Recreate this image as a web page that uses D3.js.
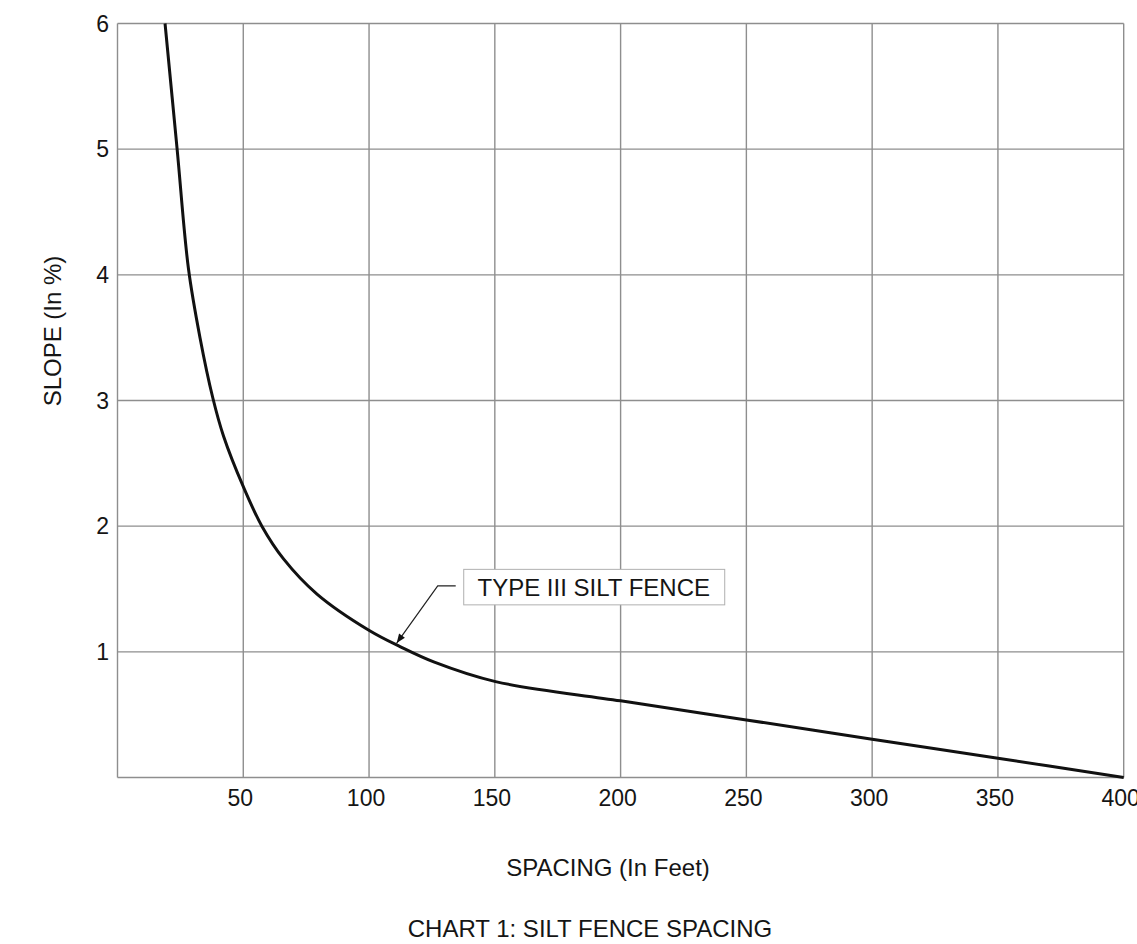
<!DOCTYPE html>
<html>
<head>
<meta charset="utf-8">
<script src="https://cdn.jsdelivr.net/npm/d3@7"></script>
<style>
  body { margin: 0; background: #fff; }
  svg text { font-family: "Liberation Sans", Arial, sans-serif; fill: #151515; }
</style>
</head>
<body>
<svg id="chart" width="1137" height="944"></svg>
<script>
// 曲线数据
const spacing = [18.9, 23.7, 28.2, 32.8, 37.9, 42.1, 50.1, 57.4, 66, 79.3, 100.1, 112.5, 125.7, 150.3, 200, 250, 300, 350, 400];
const slope   = [6, 5, 4.05, 3.5, 3.02, 2.72, 2.31, 2.0, 1.74, 1.46, 1.17, 1.04, 0.92, 0.763, 0.61, 0.458, 0.305, 0.153, 0];
const xTicks = [50, 100, 150, 200, 250, 300, 350, 400];
const yTicks = [1, 2, 3, 4, 5, 6];
const curveLabel = "TYPE III SILT FENCE";
const arrowTip = [111, 1.07];   // 箭头指向
const elbow = [127.3, 1.525];

const margin = {left: 117.5, right: 13.3, top: 23.5, bottom: 166.5};
const W = 1137, H = 944;
const svg = d3.select('#chart');

let x = d3.scaleLinear().domain([0, 400]).range([margin.left, W - margin.right]);
let y = d3.scaleLinear().domain([0, 6]).range([H - margin.bottom, margin.top]);

// 网格
let grid = svg.append('g').attr('stroke', '#8e8e8e').attr('stroke-width', 1.4);
grid.selectAll('line.v').data([0].concat(xTicks)).join('line')
    .attr('x1', d => x(d)).attr('x2', d => x(d))
    .attr('y1', y(0)).attr('y2', y(6));
grid.selectAll('line.h').data([0].concat(yTicks)).join('line')
    .attr('y1', d => y(d)).attr('y2', d => y(d))
    .attr('x1', x(0)).attr('x2', x(400));

// 刻度文字
svg.append('g').selectAll('text').data(xTicks).join('text')
    .attr('x', d => x(d) - 3).attr('y', y(0) + 28)
    .attr('text-anchor', 'middle').attr('font-size', 23)
    .text(d => d);
svg.append('g').selectAll('text').data(yTicks).join('text')
    .attr('x', x(0) - 8.5).attr('y', d => y(d) + 8.3)
    .attr('text-anchor', 'end').attr('font-size', 23)
    .text(d => d);

// 标题
svg.append('text').attr('transform', 'translate(61,331) rotate(-90)')
    .attr('text-anchor', 'middle').attr('font-size', 24).text('SLOPE (In %)');
svg.append('text').attr('x', 608).attr('y', 876)
    .attr('text-anchor', 'middle').attr('font-size', 24).text('SPACING (In Feet)');
svg.append('text').attr('x', 590).attr('y', 937)
    .attr('text-anchor', 'middle').attr('font-size', 24).text('CHART 1: SILT FENCE SPACING');

// 曲线
let line = d3.line().x((d, i) => x(spacing[i])).y((d, i) => y(slope[i])).curve(d3.curveCatmullRom.alpha(0.5));
svg.append('path').datum(slope)
    .attr('fill', 'none').attr('stroke', '#111').attr('stroke-width', 3)
    .attr('d', line);

// 标注
svg.append('defs').append('marker')
    .attr('id', 'arrow').attr('viewBox', '0 0 10 10').attr('refX', 10).attr('refY', 5)
    .attr('markerWidth', 18).attr('markerHeight', 9).attr('markerUnits', 'userSpaceOnUse')
    .attr('orient', 'auto')
    .append('path').attr('d', 'M0,1 L10,5 L0,9 Z').attr('fill', '#111');
let ex = x(elbow[0]), ey = y(elbow[1]);
svg.append('path')
    .attr('d', `M${ex + 18},${ey} L${ex},${ey} L${x(arrowTip[0])},${y(arrowTip[1])}`)
    .attr('fill', 'none').attr('stroke', '#222').attr('stroke-width', 1.2)
    .attr('marker-end', 'url(#arrow)');
let bx = ex + 26;
svg.append('rect').attr('x', bx).attr('y', ey - 16.5).attr('width', 261).attr('height', 35.5)
    .attr('fill', '#fff').attr('stroke', '#b0b0b0').attr('stroke-width', 1);
svg.append('text').attr('x', bx + 130).attr('y', ey + 10)
    .attr('text-anchor', 'middle').attr('font-size', 24).text(curveLabel);
</script>
</body>
</html>
